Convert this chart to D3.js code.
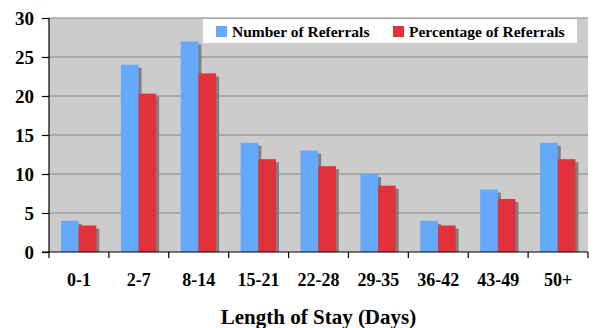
<!DOCTYPE html>
<html><head><meta charset="utf-8">
<script src="https://cdn.jsdelivr.net/npm/d3@7"></script>
<style>body{margin:0;background:#fff}svg{display:block}</style>
</head><body>
<script>
const categories = ["0-1","2-7","8-14","15-21","22-28","29-35","36-42","43-49","50+"];
const seriesNames = ["Number of Referrals","Percentage of Referrals"];
const numberOfReferrals = [4,24,27,14,13,10,4,8,14];
const percentageOfReferrals = [3.4,20.3,22.9,11.9,11.0,8.5,3.4,6.8,11.9];
const yTicks = [0,5,10,15,20,25,30];
const colors = ["#64A9FA","#E1313A"];

const W=600,H=328;
const L=49,R=588,T=18,B=252;
const svg=d3.select("body").append("svg").attr("width",W).attr("height",H);
const font="'Liberation Serif','Times New Roman',serif";

const x0=d3.scaleBand().domain(categories).range([L,R]).padding(0);
const x1=d3.scaleBand().domain(seriesNames).range([x0.bandwidth()*0.2, x0.bandwidth()*0.79]).padding(0);
const y=d3.scaleLinear().domain([0,30]).range([B,T]);

svg.append("rect").attr("x",L).attr("y",T).attr("width",R-L).attr("height",B-T).attr("fill","#CCCCCC");
svg.append("g").selectAll("line").data(yTicks.filter(d=>d>0)).join("line")
  .attr("x1",L).attr("x2",R).attr("y1",d=>y(d)).attr("y2",d=>y(d))
  .attr("stroke","#858585").attr("stroke-width",1);

const rows=categories.map((c,i)=>({c,vals:[numberOfReferrals[i],percentageOfReferrals[i]]}));
const g=svg.append("g");
rows.forEach(r=>{
  r.vals.forEach((v,j)=>{
    const s=seriesNames[j];
    const bx=x0(r.c)+x1(s), bw=x1.bandwidth();
    g.append("rect").attr("x",bx+3).attr("y",y(v)+3).attr("width",bw).attr("height",B-y(v)-3).attr("fill","#808080");
    g.append("rect").attr("x",bx).attr("y",y(v)).attr("width",bw).attr("height",B-y(v)).attr("fill",colors[j]);
  });
});

// y axis
const ya=svg.append("g").attr("transform",`translate(${L},0)`)
  .call(d3.axisLeft(y).tickValues(yTicks).tickSize(7).tickPadding(8));
ya.select(".domain").attr("stroke","#000").attr("stroke-width",1.2).attr("d",`M0,${T}V${B}`);
ya.selectAll(".tick line").attr("stroke","#000").attr("stroke-width",1.2);
ya.selectAll("text").attr("font-family",font).attr("font-weight","bold").attr("font-size",19).attr("fill","#000");

// x axis
const xa=svg.append("g").attr("transform",`translate(0,${B})`);
xa.append("line").attr("x1",L-7).attr("x2",R).attr("stroke","#000").attr("stroke-width",1.2);
xa.selectAll(".xt").data(categories.concat(["end"])).join("line")
  .attr("x1",(d,i)=>L+i*x0.step()).attr("x2",(d,i)=>L+i*x0.step())
  .attr("y1",0).attr("y2",6).attr("stroke","#000").attr("stroke-width",1.2);
xa.selectAll(".xl").data(categories).join("text")
  .attr("x",d=>x0(d)+x0.bandwidth()/2).attr("y",34).attr("text-anchor","middle")
  .attr("font-family",font).attr("font-weight","bold").attr("font-size",18).text(d=>d);

svg.append("text").attr("x",(L+R)/2).attr("y",324).attr("text-anchor","middle")
  .attr("font-family",font).attr("font-weight","bold").attr("font-size",21).text("Length of Stay (Days)");

// legend
const lg=svg.append("g");
lg.append("rect").attr("x",203).attr("y",19).attr("width",374).attr("height",24).attr("fill","#fff");
const lx=[216,393];
seriesNames.forEach((s,j)=>{
  lg.append("rect").attr("x",lx[j]).attr("y",26).attr("width",11).attr("height",11).attr("fill",colors[j]);
  lg.append("text").attr("x",lx[j]+16).attr("y",37).attr("font-family",font).attr("font-weight","bold")
    .attr("font-size",15.5).text(s);
});
</script>
</body></html>
